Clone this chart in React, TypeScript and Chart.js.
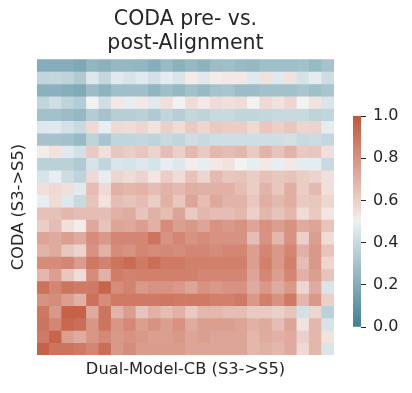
import React, { useEffect, useRef } from 'react';
import { Chart, registerables } from 'chart.js';
Chart.register(...registerables);

const titleLines = ['CODA pre- vs.', 'post-Alignment'];
const xTitle = 'Dual-Model-CB (S3->S5)';
const yTitle = 'CODA (S3->S5)';
const colLabels = ['c0','c1','c2','c3','c4','c5','c6','c7','c8','c9','c10','c11','c12','c13','c14','c15','c16','c17','c18','c19','c20','c21','c22','c23'];
const colorbarTicks = [0, 0.2, 0.4, 0.6, 0.8, 1.0];

// rows from top to bottom, 24 columns each
const row00 = [0.20,0.20,0.20,0.18,0.24,0.22,0.25,0.25, 0.24,0.21,0.26,0.22,0.25,0.23,0.27,0.28, 0.26,0.25,0.28,0.28,0.28,0.29,0.26,0.30];
const row01 = [0.38,0.39,0.37,0.33,0.46,0.39,0.47,0.44, 0.47,0.43,0.48,0.45,0.51,0.47,0.51,0.52, 0.52,0.47,0.54,0.47,0.54,0.44,0.48,0.41];
const row02 = [0.22,0.22,0.21,0.19,0.27,0.23,0.28,0.28, 0.28,0.24,0.28,0.25,0.29,0.26,0.30,0.31, 0.27,0.27,0.29,0.29,0.29,0.31,0.28,0.31];
const row03 = [0.38,0.42,0.37,0.34,0.50,0.42,0.52,0.49, 0.52,0.47,0.55,0.50,0.56,0.52,0.56,0.55, 0.56,0.50,0.57,0.54,0.58,0.50,0.54,0.45];
const row04 = [0.29,0.29,0.27,0.25,0.34,0.30,0.35,0.35, 0.36,0.33,0.38,0.35,0.39,0.37,0.40,0.40, 0.38,0.38,0.39,0.40,0.40,0.40,0.37,0.38];
const row05 = [0.46,0.47,0.43,0.40,0.57,0.49,0.57,0.56, 0.58,0.54,0.60,0.56,0.62,0.58,0.62,0.61, 0.61,0.57,0.63,0.60,0.63,0.58,0.59,0.48];
const row06 = [0.30,0.30,0.29,0.26,0.37,0.31,0.38,0.38, 0.39,0.37,0.40,0.38,0.42,0.40,0.42,0.42, 0.42,0.42,0.42,0.42,0.43,0.40,0.41,0.39];
const row07 = [0.51,0.54,0.47,0.43,0.62,0.55,0.63,0.61, 0.63,0.59,0.66,0.60,0.67,0.62,0.68,0.66, 0.68,0.62,0.69,0.64,0.69,0.62,0.63,0.55];
const row08 = [0.36,0.36,0.36,0.33,0.44,0.38,0.45,0.44, 0.46,0.44,0.49,0.46,0.51,0.49,0.52,0.54, 0.50,0.49,0.52,0.49,0.52,0.48,0.48,0.40];
const row09 = [0.44,0.49,0.41,0.37,0.57,0.49,0.58,0.56, 0.59,0.53,0.61,0.56,0.64,0.58,0.67,0.63, 0.64,0.61,0.65,0.63,0.64,0.61,0.59,0.55];
const row10 = [0.55,0.57,0.55,0.47,0.66,0.57,0.70,0.68, 0.69,0.66,0.69,0.67,0.71,0.70,0.70,0.70, 0.66,0.61,0.69,0.63,0.71,0.61,0.67,0.55];
const row11 = [0.49,0.56,0.46,0.40,0.64,0.54,0.66,0.64, 0.66,0.61,0.70,0.63,0.74,0.66,0.73,0.69, 0.69,0.63,0.71,0.67,0.71,0.62,0.63,0.58];
const row12 = [0.65,0.65,0.68,0.66,0.66,0.66,0.70,0.72, 0.64,0.70,0.66,0.74,0.62,0.68,0.66,0.66, 0.68,0.60,0.68,0.64,0.68,0.56,0.62,0.53];
const row13 = [0.61,0.66,0.55,0.51,0.73,0.64,0.74,0.73, 0.76,0.70,0.82,0.76,0.78,0.74,0.80,0.78, 0.80,0.74,0.80,0.76,0.80,0.72,0.74,0.64];
const row14 = [0.74,0.72,0.76,0.72,0.82,0.78,0.84,0.84, 0.84,0.90,0.80,0.84,0.80,0.82,0.80,0.80, 0.80,0.66,0.80,0.68,0.80,0.60,0.76,0.56];
const row15 = [0.69,0.72,0.63,0.59,0.80,0.70,0.82,0.80, 0.84,0.82,0.83,0.82,0.84,0.84,0.82,0.84, 0.84,0.76,0.84,0.78,0.84,0.70,0.78,0.64];
const row16 = [0.82,0.82,0.84,0.77,0.89,0.85,0.90,0.93, 0.88,0.92,0.88,0.88,0.86,0.86,0.86,0.86, 0.86,0.76,0.86,0.78,0.86,0.66,0.78,0.58];
const row17 = [0.68,0.76,0.63,0.56,0.82,0.70,0.87,0.85, 0.86,0.86,0.86,0.86,0.86,0.84,0.84,0.84, 0.84,0.74,0.84,0.76,0.84,0.70,0.76,0.64];
const row18 = [0.91,0.84,0.90,0.88,0.88,0.95,0.82,0.85, 0.78,0.80,0.80,0.78,0.74,0.80,0.78,0.80, 0.80,0.72,0.78,0.72,0.78,0.58,0.72,0.45];
const row19 = [0.80,0.82,0.76,0.70,0.91,0.82,0.88,0.88, 0.88,0.88,0.89,0.88,0.88,0.88,0.86,0.86, 0.88,0.78,0.86,0.80,0.88,0.68,0.78,0.60];
const row20 = [0.89,0.78,0.96,0.96,0.72,0.90,0.69,0.77, 0.64,0.70,0.66,0.70,0.62,0.68,0.68,0.66, 0.66,0.62,0.62,0.60,0.64,0.43,0.58,0.36];
const row21 = [0.90,0.84,0.94,0.92,0.79,0.90,0.79,0.83, 0.76,0.80,0.76,0.80,0.72,0.76,0.76,0.76, 0.74,0.70,0.72,0.66,0.74,0.54,0.68,0.44];
const row22 = [0.88,0.95,0.76,0.72,0.79,0.83,0.78,0.80, 0.78,0.76,0.76,0.78,0.74,0.76,0.74,0.74, 0.74,0.68,0.72,0.70,0.72,0.60,0.68,0.54];
const row23 = [0.96,0.90,0.90,0.88,0.84,0.92,0.78,0.82, 0.77,0.77,0.77,0.77,0.74,0.74,0.74,0.74, 0.74,0.68,0.70,0.68,0.72,0.57,0.68,0.45];

const cellRows = [row00,row01,row02,row03,row04,row05,row06,row07,row08,row09,row10,row11,row12,row13,row14,row15,row16,row17,row18,row19,row20,row21,row22,row23];

// diverging colormap (seaborn diverging_palette(220, 20))
const cmapStops: [number, number[]][] = [
  [0.0, [63, 127, 147]],
  [0.498, [234, 240, 243]],
  [0.5, [242, 242, 242]],
  [0.502, [245, 238, 236]],
  [1.0, [195, 85, 58]],
];

function colorFor(v: number): string {
  const t = Math.max(0, Math.min(1, v));
  for (let i = 0; i < cmapStops.length - 1; i++) {
    const [a, ca] = cmapStops[i];
    const [b, cb] = cmapStops[i + 1];
    if (t >= a && t <= b) {
      const f = b === a ? 0 : (t - a) / (b - a);
      const c = ca.map((x, k) => Math.round(x + (cb[k] - x) * f));
      return `rgb(${c[0]},${c[1]},${c[2]})`;
    }
  }
  return 'rgb(195,85,58)';
}

const FONT = "'DejaVu Sans', sans-serif";
const TEXT = '#262626';

export default function App() {
  const mainRef = useRef<HTMLCanvasElement>(null);
  const cbRef = useRef<HTMLCanvasElement>(null);

  useEffect(() => {
    document.body.style.margin = '0';
    const main = new Chart(mainRef.current!, {
      type: 'bar',
      data: {
        labels: colLabels,
        datasets: cellRows.map((row, r) => ({
          data: row.map(() => [r, r + 1]) as any,
          backgroundColor: row.map((v) => colorFor(v)),
          borderWidth: 0,
          barPercentage: 1,
          categoryPercentage: 1,
          grouped: false,
        })),
      },
      options: {
        responsive: false,
        animation: false,
        layout: { padding: { left: 0, right: 37, top: 0, bottom: 0 } },
        plugins: {
          legend: { display: false },
          tooltip: { enabled: false },
          title: {
            display: true,
            fullSize: false,
            text: titleLines,
            color: TEXT,
            font: { family: FONT, size: 20.5, weight: 'normal', lineHeight: 1.15 },
            padding: { top: 8, bottom: 4 },
          },
        },
        scales: {
          x: {
            grid: { display: false },
            border: { display: false },
            ticks: { display: false },
            afterFit: (s: any) => { s.height = 38; },
            title: {
              display: true,
              text: xTitle,
              color: TEXT,
              font: { family: FONT, size: 16.3, lineHeight: 1.2 },
              padding: { top: 0, bottom: 13.2 },
            },
          },
          y: {
            min: 0,
            max: 24,
            reverse: true,
            grid: { display: false },
            border: { display: false },
            ticks: { display: false },
            afterFit: (s: any) => { s.width = 37; },
            title: {
              display: true,
              text: yTitle,
              color: TEXT,
              font: { family: FONT, size: 16.3, lineHeight: 1.2 },
              padding: { top: 9.2, bottom: 0 },
            },
          },
        },
      },
    });

    const cb = new Chart(cbRef.current!, {
      type: 'bar',
      data: {
        labels: ['cb'],
        datasets: [
          {
            data: [[0, 1]] as any,
            backgroundColor: (ctx: any) => {
              const { chart } = ctx;
              const area = chart.chartArea;
              if (!area) return 'rgb(242,242,242)';
              const g = chart.ctx.createLinearGradient(0, area.bottom, 0, area.top);
              cmapStops.forEach(([p, c]) => g.addColorStop(p, `rgb(${c[0]},${c[1]},${c[2]})`));
              return g;
            },
            borderWidth: 0,
            barPercentage: 1,
            categoryPercentage: 1,
          },
        ],
      },
      options: {
        responsive: false,
        animation: false,
        layout: { padding: { left: 10, right: 0, top: 116, bottom: 66 } },
        plugins: { legend: { display: false }, tooltip: { enabled: false }, title: { display: false } },
        scales: {
          x: { display: false },
          y: {
            position: 'right',
            min: 0,
            max: 1,
            afterBuildTicks: (axis: any) => {
              axis.ticks = colorbarTicks.map((v) => ({ value: v }));
            },
            afterFit: (s: any) => { s.width = 51; },
            grid: { display: true, drawOnChartArea: false, drawTicks: true, tickLength: 5, color: TEXT, lineWidth: 1 },
            border: { display: false },
            ticks: {
              color: TEXT,
              padding: 7,
              font: { family: FONT, size: 16 },
              callback: (v: any) => Number(v).toFixed(1),
            },
          },
        },
      },
    });

    return () => {
      main.destroy();
      cb.destroy();
    };
  }, []);

  return (
    <div style={{ position: 'relative', width: 412, height: 393, background: '#fff' }}>
      <canvas ref={mainRef} width={371} height={393} style={{ position: 'absolute', left: 0, top: 0 }} />
      <canvas ref={cbRef} width={69} height={393} style={{ position: 'absolute', left: 343, top: 0 }} />
    </div>
  );
}
